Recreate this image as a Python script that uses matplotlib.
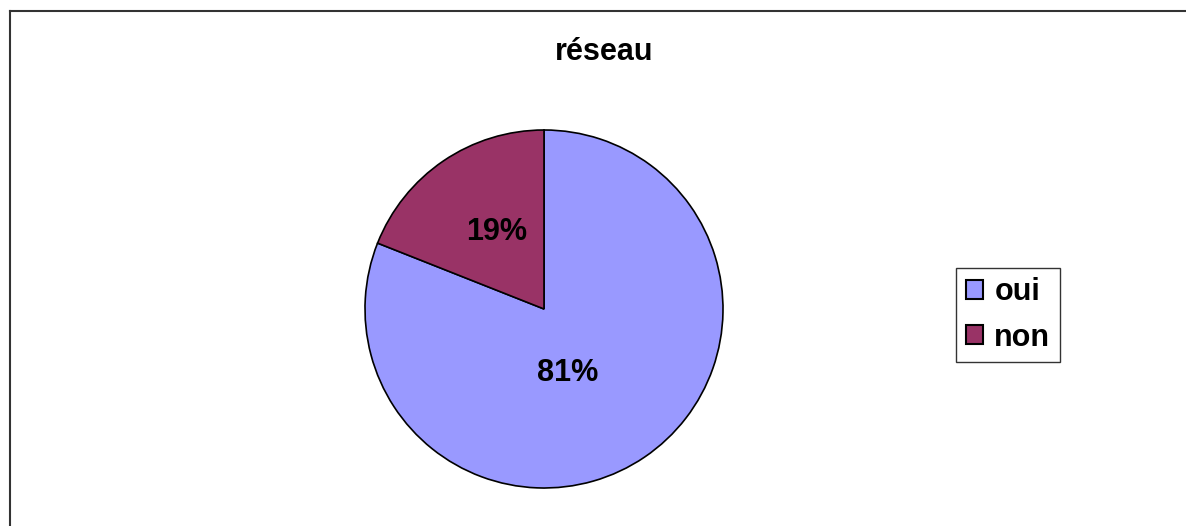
import matplotlib.pyplot as plt
from matplotlib.lines import Line2D
from matplotlib.patches import Patch

plt.rcParams['font.family'] = ['Liberation Sans', 'DejaVu Sans']

labels = ['oui', 'non']
values = [81, 19]
colors = ['#9999FF', '#993366']
title = 'réseau'

fig = plt.figure(figsize=(11.86, 5.26), dpi=100)

# frame lines (top and left only, as in the original export)
fig.add_artist(Line2D([10/1186, 1], [1 - 11/526, 1 - 11/526], color='#333333', lw=1.5))
fig.add_artist(Line2D([10/1186, 10/1186], [0, 1 - 11/526], color='#333333', lw=1.5))

# pie axes: centre (544,309), radius ~179 px
r = 179
ax = fig.add_axes([(544 - r)/1186, 1 - (309 + r)/526, 2*r/1186, 2*r/526])
wedges, texts, autotexts = ax.pie(values, colors=colors, startangle=90, counterclock=False,
                                  autopct='%d%%', pctdistance=0.55,
                                  wedgeprops={'edgecolor': 'black', 'linewidth': 1.2},
                                  textprops={'fontsize': 22, 'fontweight': 'bold'})
ax.set_xlim(-1, 1)
ax.set_ylim(-1, 1)
ax.set_aspect('equal')
# label placement like the Excel original
autotexts[0].set_position((0.134, -0.36))
autotexts[1].set_position((-0.263, 0.43))

fig.text(604/1186, 1 - 52/526, title, ha='center', va='center', fontsize=22, fontweight='bold')

handles = [Patch(facecolor=c, edgecolor='black', linewidth=1.5) for c in colors]
leg = fig.legend(handles, labels, loc='center', bbox_to_anchor=(1008/1186, 1 - 315/526),
                 prop={'size': 22, 'weight': 'bold'}, frameon=True, fancybox=False,
                 handlelength=0.58, handleheight=0.58, handletextpad=0.36, borderpad=0.3,
                 labelspacing=0.5, borderaxespad=0)
leg.get_frame().set_edgecolor('black')
leg.get_frame().set_linewidth(1.0)

plt.savefig('out.png', dpi=100)
